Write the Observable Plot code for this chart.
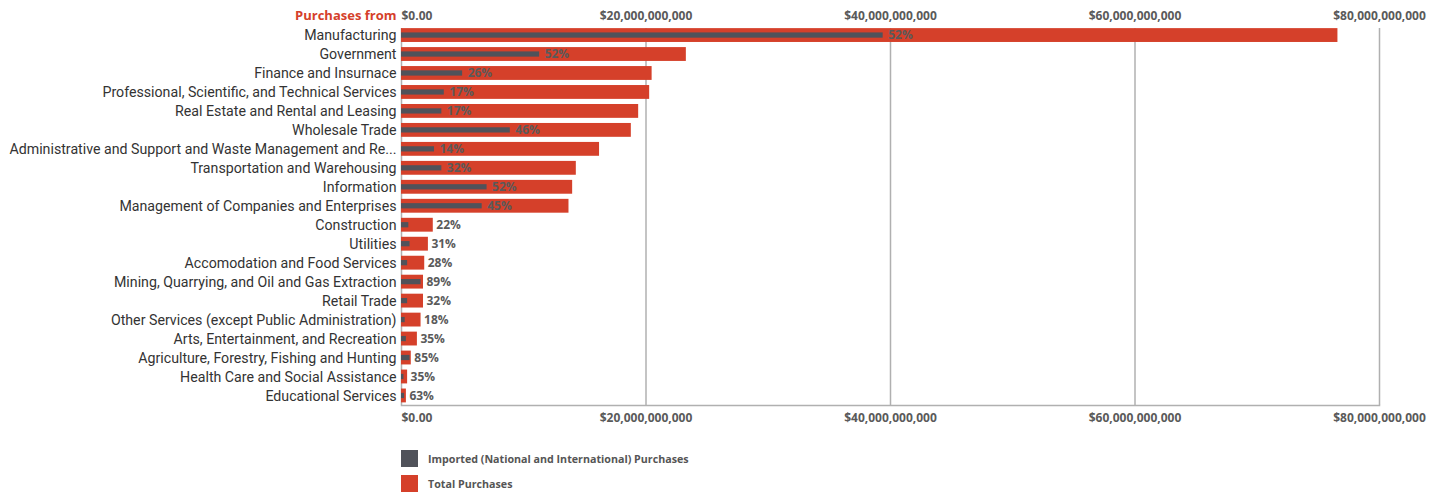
<!DOCTYPE html>
<html>
<head>
<meta charset="utf-8">
<script src="https://cdn.jsdelivr.net/npm/d3@7"></script>
<script src="https://cdn.jsdelivr.net/npm/@observablehq/plot@0.6"></script>
<style>
  body { margin: 0; background: #fff; }
  #wrap { position: relative; width: 1443px; height: 493px; font-family: Roboto, sans-serif; }
  .leg { position: absolute; left: 401px; display: flex; align-items: center; font: bold 10.7px "Open Sans", sans-serif; color: #555; }
  .leg span.sw { display: inline-block; width: 17px; height: 17px; margin-right: 10px; }
</style>
</head>
<body>
<div id="wrap">
  <div id="chart"></div>
  <div class="leg" style="top:450px"><span class="sw" style="background:#50525a"></span>Imported (National and International) Purchases</div>
  <div class="leg" style="top:475px"><span class="sw" style="background:#d5402a"></span>Total Purchases</div>
</div>
<script>
const categories = [
  "Manufacturing",
  "Government",
  "Finance and Insurnace",
  "Professional, Scientific, and Technical Services",
  "Real Estate and Rental and Leasing",
  "Wholesale Trade",
  "Administrative and Support and Waste Management and Re...",
  "Transportation and Warehousing",
  "Information",
  "Management of Companies and Enterprises",
  "Construction",
  "Utilities",
  "Accomodation and Food Services",
  "Mining, Quarrying, and Oil and Gas Extraction",
  "Retail Trade",
  "Other Services (except Public Administration)",
  "Arts, Entertainment, and Recreation",
  "Agriculture, Forestry, Fishing and Hunting",
  "Health Care and Social Assistance",
  "Educational Services"
];
const totalPurchases = [76.6e9, 23.3e9, 20.5e9, 20.3e9, 19.4e9, 18.8e9, 16.2e9, 14.3e9, 14.0e9, 13.7e9,
  2.6e9, 2.2e9, 1.9e9, 1.8e9, 1.8e9, 1.6e9, 1.3e9, 0.8e9, 0.5e9, 0.4e9];
const importedPurchases = [39.4e9, 11.3e9, 5.0e9, 3.5e9, 3.3e9, 8.9e9, 2.7e9, 3.3e9, 7.0e9, 6.6e9,
  0.6e9, 0.7e9, 0.5e9, 1.6e9, 0.5e9, 0.3e9, 0.4e9, 0.7e9, 0.2e9, 0.25e9];
const percentLabels = ["52%", "52%", "26%", "17%", "17%", "46%", "14%", "32%", "52%", "45%",
  "22%", "31%", "28%", "89%", "32%", "18%", "35%", "85%", "35%", "63%"];
const tickValues = [0, 20e9, 40e9, 60e9, 80e9];
const tickLabels = ["$0.00", "$20,000,000,000", "$40,000,000,000", "$60,000,000,000", "$80,000,000,000"];

const rows = categories.map((c, i) => ({
  category: c, total: totalPurchases[i], imported: importedPurchases[i], label: percentLabels[i]
}));

const RED = "#d5402a", DARK = "#50525a", GRID = "#b0b0b0", TXT = "#5a5a5a";
const BOLD = "'Open Sans', sans-serif";
const xDomain = [0, 80e9];
const width = 1443, mL = 401, mR = 64;
const pxPer = (width - mL - mR) / (xDomain[1] - xDomain[0]);
// label after the imported bar if it fits inside the total bar, else after the total bar
const inside = rows.filter(d => (d.total - d.imported) * pxPer > 30);
const outside = rows.filter(d => (d.total - d.imported) * pxPer <= 30);
const fmt = v => tickLabels[tickValues.indexOf(v)];

const chart = Plot.plot({
  width, height: 432,
  marginLeft: mL, marginRight: mR, marginTop: 23, marginBottom: 27,
  style: { fontFamily: "Roboto, sans-serif", background: "#fff" },
  x: { domain: xDomain, axis: null },
  y: { domain: categories, padding: 0.27, round: false, range: [23, 407.5], axis: null },
  marks: [
    Plot.ruleX(tickValues, { stroke: GRID, strokeWidth: 1.5, insetTop: 5 }),
    Plot.frame({ anchor: "bottom", stroke: GRID, strokeWidth: 1.5 }),
    Plot.barX(rows, { y: "category", x: "total", fill: RED }),
    Plot.barX(rows, { y: "category", x: "imported", fill: DARK, insetTop: 4.3, insetBottom: 4.3 }),
    Plot.text(inside, { y: "category", x: "imported", text: "label", textAnchor: "start", dx: 5,
      fill: TXT, fontWeight: "bold", fontSize: 12, fontFamily: BOLD }),
    Plot.text(outside, { y: "category", x: "total", text: "label", textAnchor: "start", dx: 3,
      fill: TXT, fontWeight: "bold", fontSize: 12, fontFamily: BOLD }),
    Plot.axisY({ tickSize: 0, tickPadding: 5, label: null, fontSize: 14.2, color: "#333" }),
    Plot.axisX({ anchor: "top", ticks: [0], tickFormat: fmt, tickSize: 0, tickPadding: 4, label: null,
      textAnchor: "start", fontWeight: "bold", fontSize: 12, fontFamily: BOLD, color: TXT }),
    Plot.axisX({ anchor: "top", ticks: tickValues.slice(1), tickFormat: fmt, tickSize: 0, tickPadding: 4, label: null,
      fontWeight: "bold", fontSize: 12, fontFamily: BOLD, color: TXT }),
    Plot.axisX({ anchor: "bottom", ticks: [0], tickFormat: fmt, tickSize: 0, tickPadding: 8, label: null,
      textAnchor: "start", fontWeight: "bold", fontSize: 12, fontFamily: BOLD, color: TXT }),
    Plot.axisX({ anchor: "bottom", ticks: tickValues.slice(1), tickFormat: fmt, tickSize: 0, tickPadding: 8, label: null,
      fontWeight: "bold", fontSize: 12, fontFamily: BOLD, color: TXT }),
    Plot.text(["Purchases from"], { frameAnchor: "top-left", lineAnchor: "middle", textAnchor: "end", dx: -5, dy: -8,
      fill: RED, fontWeight: "bold", fontSize: 13, fontFamily: BOLD })
  ]
});
document.getElementById("chart").appendChild(chart);
</script>
</body>
</html>
